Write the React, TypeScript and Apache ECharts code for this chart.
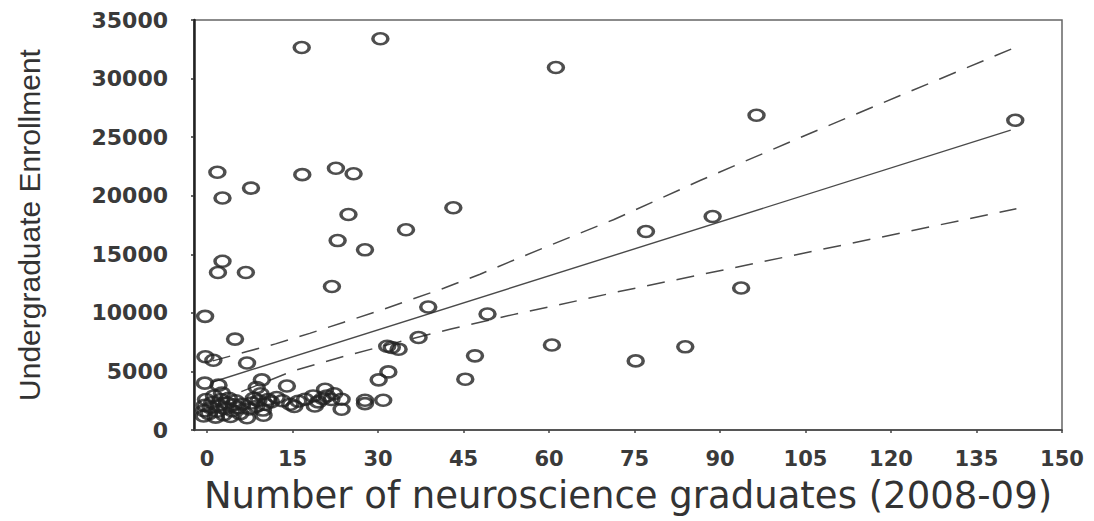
import React, { useEffect, useRef } from "react";
import * as echarts from "echarts";

// Scatter: number of neuroscience graduates (x) vs undergraduate enrollment (y)
const gradX: number[] = [
  16.6, 30.4, 61.2, 96.4, 141.8, 1.8, 2.7, 7.7, 16.7, 22.6, 25.7, 24.8, 43.2, 34.9, 22.9, 27.7,
  2.7, 1.9, 6.8, 21.9, 88.7, 77.0, 93.7, 83.9, 75.2, -0.35, 38.8, 4.9, 37.1, 31.6, 32.4, 33.6,
  -0.3, 1.1, 7.0, 47.0, 45.3, 30.1, 31.8, 49.2, 60.5, -0.4, 2.0, 9.6, 8.7, 14.0, 20.7, 21.0,
  18.6, 23.6, 23.6, 27.7, 27.7, 30.9, 18.9, 17.2, 12.2, 14.6, 16.0, 7.0, 9.9,
  -0.6, -0.5, -0.4, -0.2, 0.3, 0.6, 0.9, 1.2, 1.5, 1.8, 2.1, 2.4, 2.6, 2.9, 3.2, 3.5, 3.8, 4.1,
  4.4, 4.7, 5.0, 5.4, 5.8, 6.2,
  7.4, 7.8, 8.2, 8.6, 9.0, 9.4, 9.8, 10.2, 10.7, 11.2, 13.2, 15.3, 19.5, 20.3, 21.8, 22.3,
];
const enrollY: number[] = [
  32650, 33400, 30950, 26870, 26440, 22000, 19800, 20650, 21800, 22350, 21880, 18400, 18970, 17100, 16170, 15380,
  14400, 13450, 13450, 12250, 18230, 16940, 12120, 7100, 5900, 9700, 10500, 7760, 7900, 7150, 7050, 6900,
  6250, 5950, 5720, 6330, 4340, 4280, 4960, 9900, 7250, 4000, 3830, 4280, 3620, 3760, 3480, 2910,
  2910, 2630, 1770, 2540, 2250, 2540, 2050, 2630, 2770, 2200, 2450, 1050, 1260,
  1200, 1650, 2100, 2600, 1400, 1900, 2350, 2900, 1100, 1600, 2100, 2600, 3150, 1300, 1850, 2300, 2700, 1150,
  1650, 2150, 2500, 1900, 1400, 2200,
  1800, 2300, 2700, 2000, 2500, 3100, 1700, 2200, 2600, 2400, 2500, 2000, 2400, 2700, 2600, 3100,
];

// Regression line (solid)
const fitX: number[] = [1, 141];
const fitY: number[] = [4100, 25600];

// Upper confidence band (dashed)
const upperX: number[] = [1, 7, 12, 18, 24, 30, 35, 41.5, 47.9, 54.3, 59.6, 65.4, 71.3, 86.5, 104, 121.6, 141.5];
const upperY: number[] = [5900, 6700, 7350, 8250, 9200, 10150, 11000, 12100, 13300, 14600, 15650, 16800, 17950, 21300, 24950, 28550, 32600];

// Lower confidence band (dashed)
const lowerX: number[] = [6, 15, 24.5, 33.5, 42.6, 53.7, 60.2, 71.3, 86.5, 104, 121.6, 142];
const lowerY: number[] = [3280, 5030, 6350, 7500, 8600, 9850, 10520, 11720, 13250, 15030, 16800, 18890];

// Tick labels
const xTicks: number[] = [0, 15, 30, 45, 60, 75, 90, 105, 120, 135, 150];

const xTitle = "Number of neuroscience graduates (2008-09)";
const yTitle = "Undergraduate Enrollment";

const ellipse = "path://M0,5 A5,5 0 1,1 10,5 A5,5 0 1,1 0,5 Z";

export default function App() {
  const ref = useRef<HTMLDivElement>(null);

  useEffect(() => {
    if (!ref.current) return;
    const chart = echarts.init(ref.current, undefined, { renderer: "svg" });
    const pts = gradX.map((x, i) => [x, enrollY[i]]);
    const fit = fitX.map((x, i) => [x, fitY[i]]);
    const up = upperX.map((x, i) => [x, upperY[i]]);
    const lo = lowerX.map((x, i) => [x, lowerY[i]]);

    chart.setOption({
      animation: false,
      backgroundColor: "#ffffff",
      grid: {
        left: 194,
        right: 32,
        top: 20,
        bottom: 91,
        show: true,
        borderColor: "#666",
        borderWidth: 1.5,
        backgroundColor: "transparent",
      },
      xAxis: {
        type: "value",
        min: -2.3,
        max: 150,
        name: xTitle,
        nameLocation: "middle",
        nameGap: 47,
        nameTextStyle: {
          fontFamily: "DejaVu Sans",
          fontSize: 37,
          color: "#333",
        },
        axisLine: { show: true, onZero: false, lineStyle: { color: "#444", width: 1.5 } },
        axisTick: { show: true, length: 3, customValues: xTicks, lineStyle: { color: "#444", width: 1.5 } },
        axisLabel: {
          customValues: xTicks,
          margin: 18,
          fontFamily: "DejaVu Sans",
          fontWeight: "bold",
          fontSize: 21,
          color: "#3a3a3a",
        },
        splitLine: { show: false },
      },
      yAxis: {
        type: "value",
        min: 0,
        max: 35000,
        interval: 5000,
        name: yTitle,
        nameLocation: "middle",
        nameRotate: 90,
        nameGap: 150,
        nameTextStyle: {
          fontFamily: "Liberation Sans",
          fontSize: 30,
          color: "#333",
        },
        axisLine: { show: true, onZero: false, lineStyle: { color: "#222", width: 2.5 } },
        axisTick: { show: true, length: 3, lineStyle: { color: "#333", width: 1.5 } },
        axisLabel: {
          margin: 26,
          fontFamily: "DejaVu Sans",
          fontWeight: "bold",
          fontSize: 22,
          color: "#3a3a3a",
          formatter: (v: number) => String(v),
        },
        splitLine: { show: false },
      },
      series: [
        {
          type: "line",
          data: fit,
          symbol: "none",
          lineStyle: { color: "#4a4a4a", width: 1.4, type: "solid" },
          z: 2,
        },
        {
          type: "line",
          data: up,
          symbol: "none",
          smooth: false,
          lineStyle: { color: "#4a4a4a", width: 1.5, type: [18, 12] },
          z: 2,
        },
        {
          type: "line",
          data: lo,
          symbol: "none",
          smooth: false,
          lineStyle: { color: "#4a4a4a", width: 1.5, type: [18, 12] },
          z: 2,
        },
        {
          type: "scatter",
          data: pts,
          symbol: ellipse,
          symbolSize: [15, 11],
          itemStyle: {
            color: "rgba(255,255,255,0)",
            borderColor: "#222",
            borderWidth: 3,
          },
          z: 3,
        },
      ],
    });

    return () => {
      chart.dispose();
    };
  }, []);

  return (
    <div
      ref={ref}
      style={{ position: "fixed", left: 0, top: 0, width: 1094, height: 521, background: "#fff" }}
    />
  );
}
